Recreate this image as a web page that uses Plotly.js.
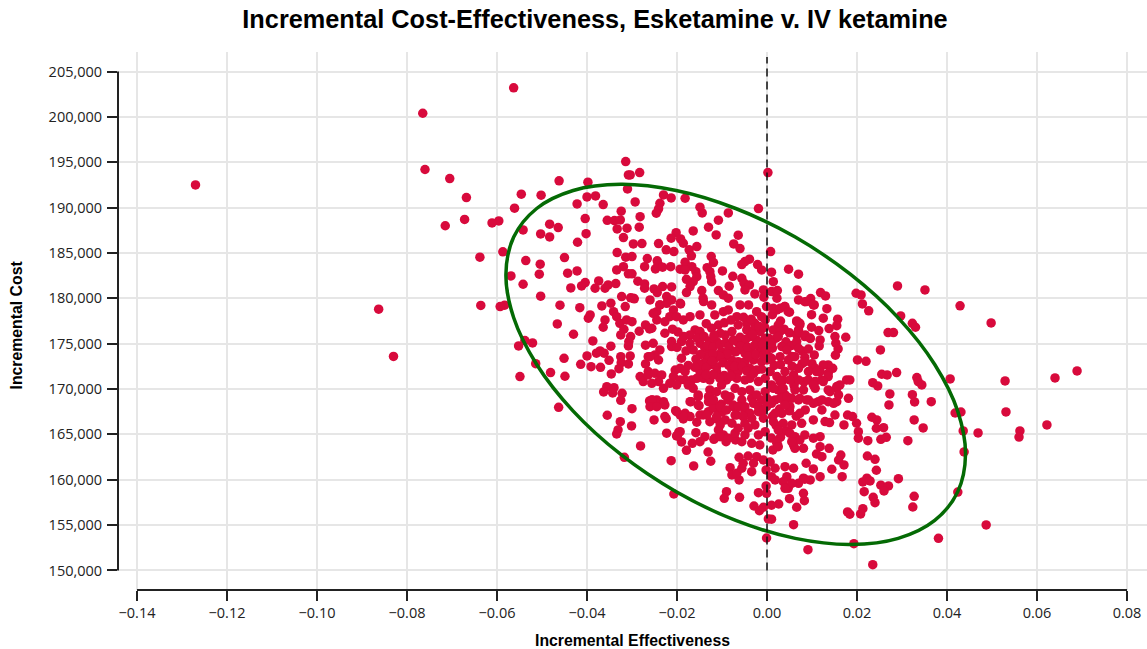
<!DOCTYPE html>
<html><head><meta charset="utf-8">
<script src="https://cdn.plot.ly/plotly-3.0.1.min.js"></script>
<style>html,body{margin:0;padding:0;background:#fff}</style></head>
<body><div id="chart" style="width:1147px;height:649px"></div>
<script>
const xTickVals=[-0.14,-0.12,-0.10,-0.08,-0.06,-0.04,-0.02,0,0.02,0.04,0.06,0.08];
const xTickText=["−0.14","−0.12","−0.10","−0.08","−0.06","−0.04","−0.02","0.00","0.02","0.04","0.06","0.08"];
const yTickVals=[150000,155000,160000,165000,170000,175000,180000,185000,190000,195000,200000,205000];

// upper-left part of the cloud and far outliers
const upperLeftX=[-0.127,-0.0765,-0.0563,-0.0760,-0.0705,-0.0668,-0.0715,-0.0672,-0.0863,-0.0830,-0.0636,
-0.0314,-0.0308,-0.0462,-0.0398,-0.0546,-0.0502,-0.0400,-0.0381,-0.0422,-0.0364,-0.0310,-0.0561,-0.0324,-0.0596,-0.0611,-0.0404,-0.0355,-0.0339,-0.0326,-0.0483,-0.0464,-0.0542,-0.0333,-0.0311,-0.0503,-0.0483,-0.0402,-0.0319,-0.0421,-0.0587,-0.0333,-0.0314,-0.0450,-0.0638,-0.0536,-0.0504,-0.0319,-0.0334,-0.0422,-0.0443,-0.0506,-0.0569,-0.0308,-0.0542,-0.0374,-0.0404,-0.0412,-0.0436,-0.0353,-0.0336,-0.0382,-0.0360];
const upperLeftY=[192500,200400,203200,194200,193200,191100,188000,188700,178800,173600,179220,
195070,193600,192950,192800,191480,191370,191180,191290,190400,190330,192060,189940,189600,188530,188310,188790,188600,188570,188640,188170,187800,187540,187650,187730,187100,186770,187130,186700,186180,185120,185040,184530,184490,184530,184160,183760,183490,183130,183020,182770,182660,182470,182700,181550,181920,181740,181370,181150,181480,181620,181110,181110];

// upper-middle part
const upperMidX=[0.0002,-0.0283,-0.0304,-0.0019,-0.0230,-0.0238,-0.0241,-0.0246,-0.0213,-0.0182,-0.0293,-0.0149,-0.0144,-0.0086,-0.0282,-0.0108,-0.0284,-0.0130,-0.0164,-0.0202,-0.0113,-0.0064,-0.0213,-0.0192,-0.0186,-0.0297,-0.0278,-0.0241,-0.0074,-0.0060,-0.0156,-0.0224,-0.0207,-0.0173,-0.0168,0.0008,-0.0300,-0.0124,-0.0119,-0.0266,-0.0039,-0.0049,-0.0056,-0.0244,-0.0242,-0.0182,-0.0021,-0.0272,-0.0248,-0.0232,-0.0214,-0.0167,-0.0193,-0.0182,-0.0133,-0.0127,-0.0125,-0.0123,-0.0158,-0.0156,-0.0164,-0.0099,-0.0012,0.0010,-0.0300,-0.0076,-0.0056,-0.0051,-0.0039,-0.0049,0.0014,-0.0179,-0.0171,-0.0179,-0.0287,-0.0272,-0.0272,-0.0084,-0.0232,-0.0251,-0.0244,-0.0212,-0.0108,-0.0097,-0.0086,-0.0145,-0.0142,-0.0027,-0.0008,-0.0007,0.0010,0.0022,-0.0297,-0.0260,-0.0223,-0.0212,-0.0192,-0.0238];
const upperMidY=[193860,193860,193600,189890,191400,190480,189860,189380,191070,191030,190620,190040,189410,189410,189000,188610,187840,187840,187430,187240,186990,186960,186630,186550,186070,186000,186030,186030,186000,185480,185700,185340,185150,185340,184680,185150,184600,184600,183940,184380,184310,184050,183720,184130,183760,183980,183720,183490,183240,183430,183490,183490,183210,183130,183380,182940,182390,181840,182940,182390,181840,183020,183130,182880,182700,182430,182210,181670,181480,180930,181840,182100,181290,180630,181880,181590,181110,181340,181290,181040,180630,181260,180850,180370,180010,180850,180010,180480,180930,180120,180740,180010,180010,179820,180190,179820,179380,179270];

// left flank of the cloud
const leftFlankX=[-0.0503,-0.0460,-0.0583,-0.0593,-0.0416,-0.0367,-0.0347,-0.0315,-0.0323,-0.0303,-0.0295,-0.0341,-0.0334,-0.0327,-0.0312,-0.0300,-0.0393,-0.0397,-0.0466,-0.0360,-0.0364,-0.0430,-0.0318,-0.0325,-0.0284,-0.0270,-0.0261,-0.0303,-0.0307,-0.0308,-0.0387,-0.0538,-0.0521,-0.0552,-0.0347,-0.0270,-0.0371,-0.0379,-0.0362,-0.0400,-0.0451,-0.0351,-0.0325,-0.0304,-0.0324,-0.0308,-0.0329,-0.0264,-0.0270,-0.0264,-0.0514,-0.0414,-0.0391,-0.0370,-0.0481,-0.0449,-0.0549,-0.0346,-0.0282,-0.0275,-0.0264,-0.0356,-0.0340,-0.0363,-0.0343,-0.0322,-0.0325,-0.0261,-0.0300,-0.0463,-0.0355,-0.0326,-0.0301,-0.0331,-0.0334,-0.0281,-0.0317];
const leftFlankY=[180240,179240,179240,179090,178970,179160,179460,179090,180190,180050,179940,178530,177980,177250,177620,177430,178170,177810,177180,177620,176810,176040,176590,175960,176370,177070,176630,175780,175230,174750,175300,175340,175080,174750,174720,174830,174200,173950,173950,173650,173390,173170,173570,173650,172910,172770,172250,173570,172770,171920,172800,172730,172470,172400,171810,171410,171370,171660,171370,170820,171560,170260,170150,169680,169570,169530,168760,168690,167840,167990,167110,166400,165930,165490,165050,163730,162480];

// lower-left and lower-middle part
const lowerMidX=[-0.0223,-0.0196,-0.0201,-0.0190,-0.0158,-0.0138,-0.0149,-0.0166,-0.0118,-0.0091,-0.0070,-0.0179,-0.0131,-0.0125,-0.0213,-0.0163,-0.0082,-0.0078,-0.0062,-0.0067,-0.0056,-0.0062,-0.0042,-0.0023,-0.0008,-0.0034,-0.0053,-0.0030,-0.0207,-0.0090,-0.0095,-0.0061,-0.0019,-0.0002,-0.0001,-0.0029,-0.0017,-0.0008,0.0003,-0.0001,-0.0255,-0.0245,-0.0230,-0.0227,-0.0169,-0.0153,-0.0151,-0.0130,-0.0127,-0.0203,-0.0251,-0.0224,-0.0193,-0.0182,-0.0186,-0.0171,-0.0156,-0.0142,-0.0130,-0.0116,-0.0102,-0.0119,-0.0127,-0.0112,-0.0093,-0.0104,-0.0108,-0.0097,-0.0193,-0.0199,-0.0116,-0.0104,-0.0086,-0.0071,-0.0056,-0.0034,-0.0016,-0.0049,-0.0064,-0.0049,-0.0027,-0.0078,-0.0067,-0.0075,-0.0056,-0.0034,-0.0012,-0.0049,-0.0019,-0.0008,-0.0034,-0.0064,-0.0004,-0.0019,-0.0042,-0.0087,-0.0100,-0.0002,0.0007,0.0013];
const lowerMidY=[165130,165240,164830,164170,165190,164750,164200,164020,164460,164200,164390,163250,163060,162040,162110,161520,161330,160530,159980,160720,161270,162480,162620,162550,162180,160890,161820,161820,158430,158690,157960,158070,158580,159320,158510,157110,156590,156970,155680,153580,168800,168320,168610,168250,168610,169160,168170,168610,169160,167620,166590,166740,167140,167330,166700,166960,166340,167140,167510,167880,168320,168060,166400,166700,166590,166040,165490,164940,165300,164860,164580,164750,164580,165130,164200,164020,163840,164940,165680,166230,166040,166230,167140,168060,168800,168990,168800,167510,167510,166780,166780,168060,165300,164940,165680,168800,167470,161080,161960,163290];

// dense centre of the cloud
const centreX=[-0.0238,-0.0245,-0.0253,-0.0223,-0.0193,-0.0208,-0.0216,-0.0201,-0.0227,-0.0245,-0.0256,-0.0186,-0.0171,-0.0149,-0.0141,-0.0123,-0.0116,-0.0097,-0.0086,-0.0067,-0.0060,-0.0041,-0.0023,-0.0012,-0.0004,-0.0027,-0.0045,-0.0064,-0.0108,-0.0123,-0.0160,-0.0149,-0.0171,-0.0227,-0.0212,-0.0212,-0.0190,-0.0171,-0.0164,-0.0253,-0.0238,-0.0249,-0.0241,-0.0260,-0.0149,-0.0138,-0.0127,-0.0112,-0.0093,-0.0078,-0.0104,-0.0067,-0.0053,-0.0038,-0.0023,-0.0004,-0.0045,-0.0030,-0.0015,-0.0015,0.0000,-0.0038,-0.0049,-0.0064,-0.0082,-0.0101,-0.0116,-0.0134,-0.0141,-0.0127,-0.0112,-0.0093,-0.0078,-0.0064,-0.0049,-0.0030,-0.0012,0.0000,-0.0149,-0.0167,-0.0156,-0.0141,-0.0127,-0.0112,-0.0078,-0.0064,-0.0067,-0.0090,-0.0101,-0.0038,-0.0023,-0.0004,-0.0038,-0.0019,-0.0049,-0.0204,-0.0193,-0.0182,-0.0208,-0.0193,-0.0182,-0.0249,-0.0234,-0.0241,-0.0230,-0.0256,-0.0216,-0.0201,-0.0175,-0.0164,-0.0153,-0.0127,-0.0130,-0.0112,-0.0119,-0.0071,-0.0056,-0.0038,-0.0023,-0.0004,0.0000,-0.0082,-0.0093,-0.0104,-0.0090,-0.0075,-0.0064,-0.0049,-0.0030,-0.0019,-0.0008,-0.0038,-0.0071,-0.0245,-0.0256,-0.0260,-0.0230,-0.0245,-0.0153,-0.0171,-0.0149,-0.0201,-0.0186,-0.0227,-0.0134,-0.0112,-0.0053];
const centreY=[179270,178530,178350,179450,179450,178720,177980,177980,177430,177610,176700,177610,177980,178170,179640,179270,178170,178530,178720,177980,179270,179270,178530,177980,177610,177250,177250,177060,177060,176700,176510,176330,175960,176150,175230,174680,175230,175040,174310,175040,174310,173760,173200,173570,175040,174490,174120,175230,175960,176330,176150,175230,175040,175780,175410,175590,176510,176510,176330,174310,174310,174310,173940,174310,174310,174120,173390,173570,172840,172650,172470,173570,173200,173020,173020,173200,173020,173200,171920,171000,171180,171180,171000,171920,172100,171920,171180,171000,170450,172290,172100,171180,171180,170820,171000,172100,172290,171920,171370,171000,171000,171730,171550,170820,170080,170630,170630,170450,170450,170080,169350,169900,169160,169710,168800,170080,169710,169900,169350,169710,168980,169160,169350,168060,167690,168240,168060,168060,168430,168060,167690,167330,167140,168800,168800,168060,168430,168060,168240,168610,167140,167510,166960,166960,167140,166960,166960];

// further overlapping marks where the centre is near solid
const coreX=[-0.0155,-0.0140,-0.0128,-0.0118,-0.0133,-0.0120,-0.0105,-0.0092,-0.0085,-0.0075,-0.0060,-0.0047,-0.0032,-0.0058,-0.0043,-0.0028,-0.0010,-0.0070,-0.0088,-0.0105,-0.0120,-0.0148,-0.0158,-0.0150,-0.0135,-0.0122,-0.0098,-0.0085,-0.0072,-0.0055,-0.0042,-0.0025,-0.0008,-0.0045,-0.0030,-0.0012,-0.0095,-0.0080,-0.0105,-0.0120,-0.0135,-0.0160,-0.0175,-0.0190,-0.0180,-0.0200,-0.0185,-0.0198,-0.0210,-0.0135,-0.0095,-0.0080,-0.0052,-0.0035,-0.0018,-0.0005,-0.0003,0.0004,0.0006,0.0012,0.0016,0.0030,0.0020,0.0042,0.0055,0.0055,0.0078,0.0092,0.0100,0.0078,0.0056,0.0036,0.0060,0.0082,0.0038,0.0050,0.0012,0.0030,0.0012,0.0028,0.0050,0.0065,0.0085,0.0020,0.0042,0.0030,0.0010];
const coreY=[175600,175800,175300,175900,174800,174600,174900,175100,174700,175400,175700,175500,176000,174700,174600,174800,174900,174100,173900,173600,173900,173800,173300,172700,172400,173100,172900,172600,172500,172500,173600,173800,173700,172000,171700,172200,171500,171400,171200,171600,171600,172400,172600,173400,174200,174600,175800,176300,176600,177200,177300,177600,177900,177700,176900,176800,174200,175600,173500,174500,172600,172700,175600,175200,174800,173600,174200,174400,172800,172800,172500,171000,170400,170800,176600,176200,178200,177500,167000,167800,167600,167000,167700,166000,165400,164700,164600];

// right-hand part of the centre
const rightCentreX=[0.0023,0.0048,0.0070,0.0067,0.0119,0.0130,0.0070,0.0084,0.0097,0.0105,0.0133,0.0039,0.0050,0.0022,0.0099,0.0125,0.0157,0.0155,0.0138,0.0066,0.0073,0.0070,0.0066,0.0099,0.0115,0.0151,0.0175,0.0084,0.0096,0.0118,0.0116,0.0153,0.0158,0.0152,0.0105,0.0084,0.0146,0.0136,0.0125,0.0107,0.0118,0.0136,-0.0001,0.0014,0.0029,0.0040,0.0047,0.0088,0.0103,0.0066,0.0073,0.0025,0.0014,0.0029,0.0070,0.0085,0.0096,0.0066,0.0070,0.0025,0.0010,0.0033,0.0044,0.0010,0.0029,0.0047,0.0062,0.0085,0.0070,0.0092,0.0110,0.0136,0.0121,0.0107,0.0092,0.0070,0.0059,0.0040,0.0022,0.0007,0.0051,0.0029,0.0010,0.0025,0.0040,0.0062,0.0081,0.0107,0.0136,0.0155,0.0177,0.0162,0.0055,0.0070,0.0092,0.0114,0.0136,0.0155,0.0018,0.0003,0.0040,-0.0001,0.0036,0.0103,0.0125,0.0155,0.0140,0.0159,0.0014,0.0010,0.0029,0.0044,0.0051,0.0073,0.0088,0.0103,0.0122,0.0148,0.0122,0.0151,0.0103,0.0077,0.0073,0.0033,0.0014,0.0036,0.0055,0.0025,0.0051,0.0062,0.0022,0.0059,0.0129,0.0139,0.0040,0.0018];
const rightCentreY=[180850,183210,182660,180930,180630,180260,179820,179630,179970,179270,178860,179090,178470,178720,178200,177810,177700,176990,176660,177510,177250,176520,175970,176810,176440,175780,175710,175780,175600,175410,174750,175050,174420,173730,173760,173500,172290,172660,172660,172290,171920,171740,179090,178900,178900,179090,178530,179640,179270,177430,177060,177060,176510,176330,176330,175960,175590,175230,174490,175780,175040,174680,174310,173390,173570,173200,173570,173020,172290,171920,171920,171370,171000,170820,171000,171000,171550,171920,171370,171920,171000,170820,170450,169900,169350,169900,169900,170080,169900,170080,171000,170450,168980,168800,168800,168610,168610,168610,168800,168800,168430,168060,170080,170450,170820,170270,169710,169350,170080,168430,168980,169160,168060,168980,168800,168430,168800,168430,167690,167140,166590,166220,167330,167330,166410,166220,166040,165490,165120,164750,164020,163830,166410,166300,168240,167330];

// right flank and lower right
const rightFlankX=[0.0198,0.0209,0.0290,0.0212,0.0226,0.0297,0.0323,0.0330,0.0269,0.0281,0.0252,0.0201,0.0220,0.0288,0.0255,0.0267,0.0184,0.0333,0.0351,0.0429,0.0498,0.0407,0.0529,0.0689,0.0640,0.0531,0.0418,0.0431,0.0562,0.0560,0.0622,0.0469,0.0436,0.0438,0.0424,0.0487,0.0235,0.0246,0.0336,0.0344,0.0273,0.0271,0.0323,0.0328,0.0365,0.0327,0.0347,0.0313,0.0233,0.0244,0.0243,0.0259,0.0253,0.0265,0.0181,0.0179,0.0190,0.0199,0.0171,0.0203,0.0203,0.0224,0.0223,0.0240,0.0243,0.0167,0.0292,0.0222,0.0213,0.0229,0.0216,0.0253,0.0270,0.0260,0.0327,0.0324,0.0236,0.0240,0.0213,0.0208,0.0179,0.0184,0.0193,0.0235,0.0091,0.0059,0.0381,0.0066,0.0050,0.0081,0.0083,0.0026,0.0010,0.0010,0.0144,0.0118,0.0103,0.0087,0.0171,0.0164,0.0159,0.0138,0.0118,0.0110,0.0122,0.0096,0.0081,0.0070,0.0084,0.0040,0.0059,0.0044,0.0036,0.0047,0.0055,0.0040,0.0018,0.0010,0.0018,0.0118,0.0103,0.0084,0.0073,0.0081,0.0062,0.0055,0.0022,0.0025];
const rightFlankY=[180560,180370,181370,179380,178620,178060,177250,176810,176230,176230,174310,173210,173060,171810,171630,171560,171000,171260,180930,179170,177290,171110,170890,172000,171230,167480,167360,167470,165380,164710,166040,165160,165380,163070,158650,155020,170700,170340,170820,170450,169460,168250,169380,168580,168610,166590,165710,164310,166890,166590,165680,165740,164460,164680,168980,167140,166960,166230,166040,165300,164580,164310,162620,162260,161050,160340,160120,160170,159760,159870,158690,159400,159320,158770,158180,157000,158070,157480,156810,156230,156450,156200,152950,150640,152300,155050,153550,156970,157920,158510,157700,157330,157190,155650,161160,160340,161190,161820,161630,162730,162180,163470,163650,162840,162550,159980,160170,159610,160060,161440,161270,160340,159790,159060,159610,159060,161270,160340,159980,164750,164580,164940,164390,163470,163470,164200,164200,163650];

const incrementalEffectiveness=[].concat(upperLeftX,upperMidX,leftFlankX,lowerMidX,centreX,coreX,rightCentreX,rightFlankX);
const incrementalCost=[].concat(upperLeftY,upperMidY,leftFlankY,lowerMidY,centreY,coreY,rightCentreY,rightFlankY);

// confidence ellipse outline
const ellipseX=[0.04411,0.04238,0.03727,0.02916,0.01858,0.00627,-0.00696,-0.02018,-0.03249,-0.04307,-0.05118,-0.05629,-0.05802,-0.05629,-0.05118,-0.04307,-0.03249,-0.02018,-0.00696,0.00627,0.01858,0.02916,0.03727,0.04238,0.04411];
const ellipseY=[162790,167570,172710,177850,182630,186750,189900,191880,192560,191880,189900,186750,182630,177850,172710,167570,162790,158680,155520,153540,152870,153540,155520,158680,162790];

const refX=[0,0];
const refY=[150000,206600];

const traces=[
 {x:incrementalEffectiveness,y:incrementalCost,type:'scatter',mode:'markers',marker:{size:9.5,color:'#d80a3c'},hoverinfo:'x+y'},
 {x:ellipseX,y:ellipseY,type:'scatter',mode:'lines',line:{color:'#046a04',width:3.5,shape:'spline',smoothing:1},hoverinfo:'skip'},
 {x:refX,y:refY,type:'scatter',mode:'lines',line:{color:'#111',width:1.5,dash:'8px,5px'},hoverinfo:'skip'}
];
const tickFont={family:'"Open Sans",sans-serif',size:14.5,color:'#222'};
const titleFont={family:'"Liberation Sans",Arial,sans-serif',size:15.8,color:'#000'};
const layout={
 width:1147,height:649,showlegend:false,paper_bgcolor:'#fff',plot_bgcolor:'#fff',
 margin:{l:118,r:0,t:52,b:59},
 title:{text:'<b>Incremental Cost-Effectiveness, Esketamine v. IV ketamine</b>',x:595/1147,xanchor:'center',y:1-19/649,yanchor:'middle',font:{family:'"Liberation Sans",Arial,sans-serif',size:25.3,color:'#000'}},
 xaxis:{range:[-0.14422,0.08444],tickmode:'array',tickvals:xTickVals,ticktext:xTickText,tickfont:tickFont,ticks:'outside',ticklen:10,tickwidth:2,tickcolor:'#222',showline:false,zeroline:false,gridcolor:'#e6e6e6',gridwidth:1.5,
   title:{text:'<b>Incremental Effectiveness</b>',font:titleFont,standoff:13}},
 yaxis:{range:[147850,207150],tickmode:'array',tickvals:yTickVals,tickformat:',',tickfont:tickFont,ticks:'outside',ticklen:10,tickwidth:2,tickcolor:'#222',showline:false,zeroline:false,gridcolor:'#e6e6e6',gridwidth:1.5,ticklabelstandoff:2,
   title:{text:'<b>Incremental Cost&nbsp;&nbsp;</b>',font:titleFont,standoff:22}},
 shapes:[
  {type:'line',xref:'x',yref:'paper',x0:-0.14,x1:0.08,y0:0,y1:0,line:{color:'#222',width:2}},
  {type:'line',xref:'paper',yref:'y',x0:0,x1:0,y0:150000,y1:205000,line:{color:'#222',width:2}}
 ]
};
Plotly.newPlot('chart',traces,layout,{displayModeBar:false,responsive:false});
</script></body></html>
